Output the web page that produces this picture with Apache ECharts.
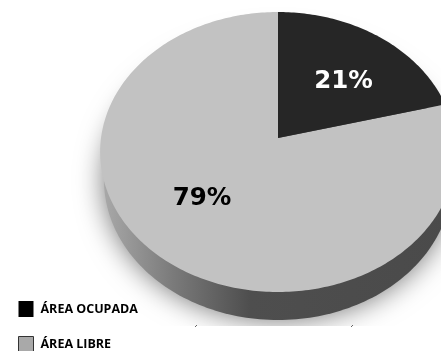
<!DOCTYPE html>
<html><head><meta charset="utf-8">
<style>html,body{margin:0;padding:0;background:#fff}#c{width:441px;height:351px}</style>
<script src="https://cdn.jsdelivr.net/npm/echarts@6/dist/echarts.min.js"></script>
</head><body><div id="c"></div>
<script>
const categories = ['ÁREA OCUPADA', 'ÁREA LIBRE'];
const values = [21, 79];
const faceColors = ['#262626', '#c2c2c2'];
const legendColors = ['#000000', '#a9a9a9'];
const labelColors = ['#ffffff', '#000000'];
const labelPos = [[343.5, 81.5], [202, 199]];
const cx = 278, apexY = 138, persp = -0.1, scaleY = 138.6, scaleX = 177;
const rimCx = 278, rimCy = 180, rimRx = 174, rimRy = 140;

const total = values.reduce((a, b) => a + b, 0);
function pt(t) {
  const u = Math.sin(t), v = -Math.cos(t), w = 1 + persp * v;
  return [cx + scaleX * u / w, apexY + scaleY * v / w];
}
function wedge(a0, a1) {
  const pts = [[cx, apexY]];
  const n = Math.max(2, Math.ceil((a1 - a0) * 60));
  for (let i = 0; i <= n; i++) pts.push(pt(a0 + (a1 - a0) * i / n));
  return pts;
}
function rim() {
  const pts = [];
  for (let i = 0; i < 240; i++) {
    const t = i / 240 * 2 * Math.PI;
    pts.push([rimCx + rimRx * Math.sin(t), rimCy - rimRy * Math.cos(t)]);
  }
  return pts;
}
const rimFill = new echarts.graphic.LinearGradient(0, 0, 1, 0, [
  { offset: 0, color: '#a8a8a8' }, { offset: 0.2, color: '#7a7a7a' },
  { offset: 0.42, color: '#4e4e4e' }, { offset: 1, color: '#4a4a4a' }
]);
function renderSlice(i) {
  return function (params, api) {
    const v = api.value(0);
    let before = 0;
    for (let k = 0; k < i; k++) before += values[k];
    const a0 = before / total * 2 * Math.PI, a1 = (before + v) / total * 2 * Math.PI;
    const children = [];
    if (i === 1) {
      children.push({ type: 'polygon', shape: { points: rim() },
        style: { fill: rimFill, shadowBlur: 28, shadowColor: 'rgba(0,0,0,0.55)', shadowOffsetY: 0 } });
    }
    children.push({ type: 'polygon', shape: { points: wedge(a0, a1) }, style: { fill: faceColors[i] } });
    children.push({ type: 'text', z2: 10, style: { x: labelPos[i][0], y: labelPos[i][1], text: v + '%', align: 'center', verticalAlign: 'middle',
      fill: labelColors[i], font: 'bold 24.5px "DejaVu Sans"' } });
    return { type: 'group', children };
  };
}
const order = [1, 0];
const chart = echarts.init(document.getElementById('c'), null, { renderer: 'canvas' });
chart.setOption({
  animation: false,
  legend: {
    left: 18, top: 301, height: 80, padding: 0, orient: 'vertical', itemWidth: 15, itemHeight: 16, itemGap: 19,
    selectedMode: false, data: categories.map((n, i) => ({ name: n, icon: 'rect',
      itemStyle: { color: legendColors[i], borderColor: i ? '#333' : '#000', borderWidth: i ? 1 : 0 } })),
    textStyle: { fontFamily: 'Open Sans', fontWeight: 'bold', fontSize: 12.5, color: '#000', padding: [0, 0, 0, 2] }
  },
  xAxis: { show: false }, yAxis: { show: false },
  graphic: [
    { type: 'rect', z: 5, shape: { x: 130, y: 326, width: 311, height: 25 }, style: { fill: '#fff' } },
    { type: 'line', z: 6, shape: { x1: 195, y1: 327, x2: 197, y2: 325 }, style: { stroke: '#666', lineWidth: 1 } },
    { type: 'line', z: 6, shape: { x1: 351, y1: 327, x2: 353, y2: 325 }, style: { stroke: '#666', lineWidth: 1 } }
  ],
  series: order.map(i => ({
    type: 'custom', name: categories[i], coordinateSystem: 'none', silent: true, z: i === 1 ? 2 : 3,
    itemStyle: { color: legendColors[i] },
    data: [[values[i]]], renderItem: renderSlice(i)
  }))
});
</script></body></html>
